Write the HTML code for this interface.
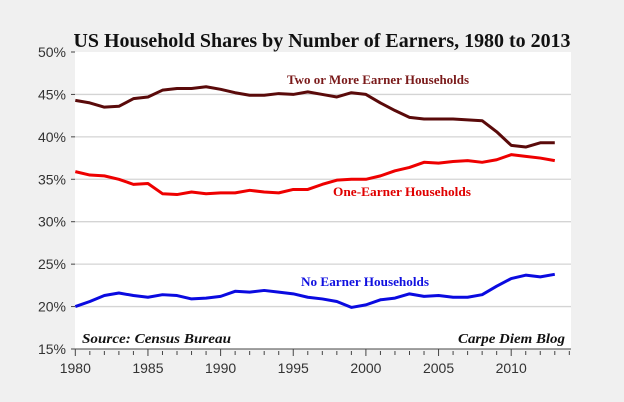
<!DOCTYPE html>
<html><head><meta charset="utf-8"><style>
body{margin:0;background:#f0f0f0;}
svg{display:block;}
</style></head><body>
<svg id="c" width="624" height="402" xmlns="http://www.w3.org/2000/svg">
<rect width="624" height="402" fill="#f0f0f0"/>
<text x="73.5" y="47" font-family="Liberation Serif, serif" font-weight="bold" font-size="20" fill="#111" textLength="497" lengthAdjust="spacingAndGlyphs">US Household Shares by Number of Earners, 1980 to 2013</text>
<rect x="75" y="52" width="496" height="297" fill="#fff"/>
<g id="grid"></g><g id="axes"></g><g id="series"></g>
<text x="287" y="84" font-family="Liberation Serif, serif" font-weight="bold" font-size="13" fill="#7a1a1a" textLength="182" lengthAdjust="spacingAndGlyphs">Two or More Earner Households</text>
<text x="333" y="196" font-family="Liberation Serif, serif" font-weight="bold" font-size="13" fill="#e00000" textLength="138" lengthAdjust="spacingAndGlyphs">One-Earner Households</text>
<text x="301" y="286" font-family="Liberation Serif, serif" font-weight="bold" font-size="13" fill="#1010e0" textLength="128" lengthAdjust="spacingAndGlyphs">No Earner Households</text>
<text x="82" y="343" font-family="Liberation Serif, serif" font-weight="bold" font-style="italic" font-size="14" fill="#111" textLength="149" lengthAdjust="spacingAndGlyphs">Source: Census Bureau</text>
<text x="565" y="343" text-anchor="end" font-family="Liberation Serif, serif" font-weight="bold" font-style="italic" font-size="14" fill="#111" textLength="107" lengthAdjust="spacingAndGlyphs">Carpe Diem Blog</text>
</svg>
<script>
const years=[];for(let y=1980;y<=2013;y++)years.push(y);
const twoPlus=[44.3,44.0,43.5,43.6,44.5,44.7,45.5,45.7,45.7,45.9,45.6,45.2,44.9,44.9,45.1,45.0,45.3,45.0,44.7,45.2,45.0,44.0,43.1,42.3,42.1,42.1,42.1,42.0,41.9,40.6,39.0,38.8,39.3,39.3];
const oneEarner=[35.9,35.5,35.4,35.0,34.4,34.5,33.3,33.2,33.5,33.3,33.4,33.4,33.7,33.5,33.4,33.8,33.8,34.4,34.9,35.0,35.0,35.4,36.0,36.4,37.0,36.9,37.1,37.2,37.0,37.3,37.9,37.7,37.5,37.2];
const noEarner=[20.0,20.6,21.3,21.6,21.3,21.1,21.4,21.3,20.9,21.0,21.2,21.8,21.7,21.9,21.7,21.5,21.1,20.9,20.6,19.9,20.2,20.8,21.0,21.5,21.2,21.3,21.1,21.1,21.4,22.4,23.3,23.7,23.5,23.8];
const yTicks=[15,20,25,30,35,40,45,50];
const xLabels=[1980,1985,1990,1995,2000,2005,2010];
const NS="http://www.w3.org/2000/svg";
const X=y=>75.3+(y-1980)*14.53;
const Y=v=>349-(v-15)*8.486;
function mk(tag,attrs,parent){const e=document.createElementNS(NS,tag);for(const k in attrs)e.setAttribute(k,attrs[k]);document.getElementById(parent).appendChild(e);return e;}
yTicks.forEach(v=>{
  if(v>15&&v<50){const g=mk('line',{x1:75,x2:571,y1:Y(v),y2:Y(v),stroke:'#d4d4d4','stroke-width':1.3},'grid');
  
  }
  const t=mk('line',{x1:71,x2:75,y1:Y(v),y2:Y(v),stroke:'#444','stroke-width':1},'axes');
  
  
  const l=mk('text',{x:66,y:Y(v)+5,'text-anchor':'end','font-family':'Liberation Sans, sans-serif','font-size':14,fill:'#333'},'axes');
  l.textContent=v+'%';
  
  
});
const ax=mk('line',{x1:75,x2:571,y1:349,y2:349,stroke:'#444','stroke-width':1},'axes');


for(let y=1980;y<=2014;y++){
  const big=(y%5===0);
  const t=mk('line',{x1:X(y),x2:X(y),y1:big?349:351,y2:big?356:355,stroke:'#444','stroke-width':1},'axes');
  
  
}
xLabels.forEach(y=>{
  const l=mk('text',{x:X(y),y:373,'text-anchor':'middle','font-family':'Liberation Sans, sans-serif','font-size':14,fill:'#333'},'axes');
  l.textContent=y;
  
  
});
function line(data,color,name){
  const p=mk('polyline',{points:data.map((v,i)=>X(years[i])+','+Y(v)).join(' '),fill:'none',stroke:color,'stroke-width':3,'stroke-linejoin':'round'},'series');
  
  
}
line(twoPlus,'#5a0a0a','series-two-or-more');
line(oneEarner,'#ee0000','series-one-earner');
line(noEarner,'#0a0ae0','series-no-earner');
</script>
</body></html>
